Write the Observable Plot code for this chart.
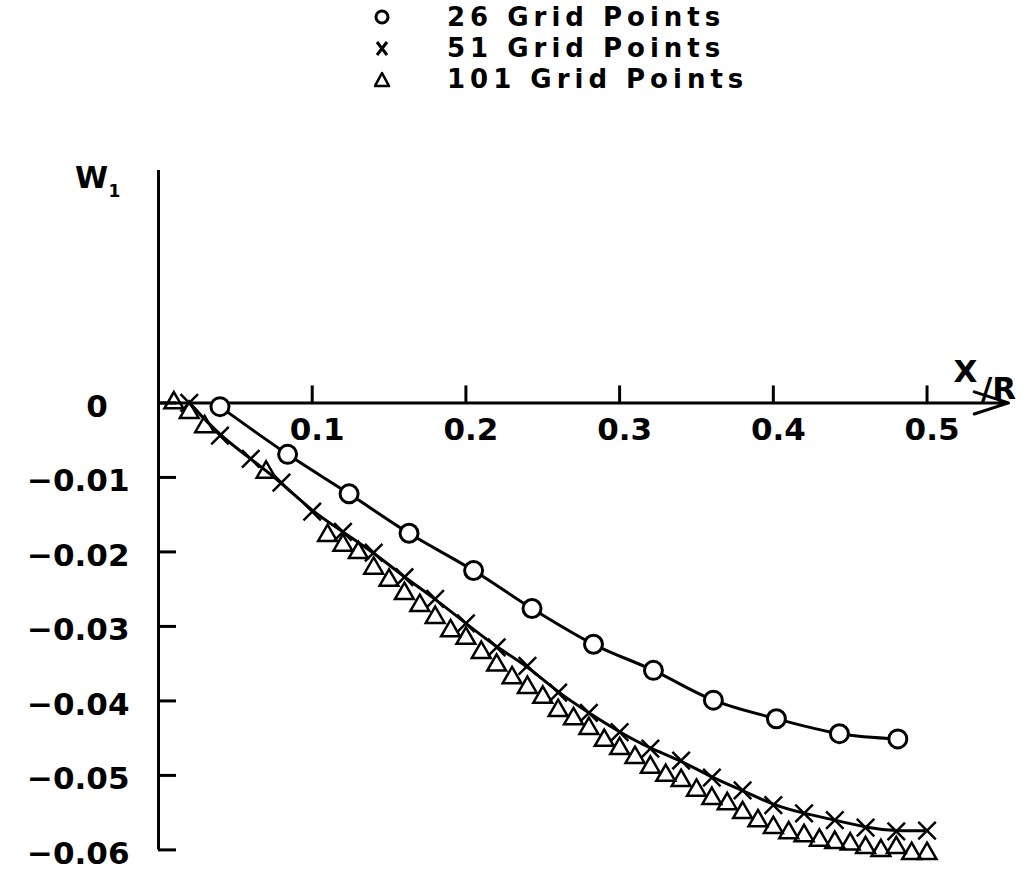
<!DOCTYPE html>
<html>
<head>
<meta charset="utf-8">
<script src="https://cdn.jsdelivr.net/npm/d3@7"></script>
<script src="https://cdn.jsdelivr.net/npm/@observablehq/plot@0.6"></script>
<style>
  html, body { margin: 0; padding: 0; background: #fff; }
  body { width: 1023px; height: 880px; overflow: hidden; font-family: "DejaVu Sans", sans-serif; }
  #legend { position: relative; height: 100px; }
  .row { position: absolute; left: 0; height: 30px; line-height: 30px; font-size: 26px; font-weight: bold; letter-spacing: 5px; color: #000; white-space: nowrap; }
  .row svg { position: absolute; left: 374px; top: 7px; }
  .row span { position: absolute; left: 447px; top: 0; }
  #chart svg { display: block; }
</style>
</head>
<body>
<div id="legend"></div>
<div id="chart"></div>
<script>
// ---- data ----
const seriesNames = ["26 Grid Points", "51 Grid Points", "101 Grid Points"];
const seriesSymbols = ["circle", "times", "triangle"];

// 26 grid points (circles)
const x26 = [0.040, 0.084, 0.124, 0.163, 0.205, 0.243, 0.283, 0.322, 0.361, 0.402, 0.443, 0.481];
const w26 = [-0.0005, -0.0069, -0.0122, -0.0175, -0.0225, -0.0276, -0.0324, -0.0359, -0.0399, -0.0424, -0.0444, -0.0451];

// 51 grid points (crosses)
const x51 = [0.02, 0.04, 0.06, 0.08, 0.10, 0.12, 0.14, 0.16, 0.18, 0.20, 0.22, 0.24, 0.26,
             0.28, 0.30, 0.32, 0.34, 0.36, 0.38, 0.40, 0.42, 0.44, 0.46, 0.48, 0.50];
const w51 = [0.0, -0.0044, -0.0075, -0.0107, -0.0146, -0.0173, -0.0201, -0.0234, -0.0263, -0.0296,
             -0.0328, -0.0353, -0.0389, -0.0416, -0.0442, -0.0464, -0.0480, -0.0503, -0.0520,
             -0.0540, -0.0551, -0.0560, -0.0570, -0.0575, -0.0574];

// 101 grid points (triangles)
const x101 = [0.01, 0.02, 0.03, 0.07, 0.11, 0.12, 0.13, 0.14, 0.15, 0.16, 0.17, 0.18, 0.19, 0.20,
              0.21, 0.22, 0.23, 0.24, 0.25, 0.26, 0.27, 0.28, 0.29, 0.30, 0.31, 0.32, 0.33, 0.34,
              0.35, 0.36, 0.37, 0.38, 0.39, 0.40, 0.41, 0.42, 0.43, 0.44, 0.45, 0.46, 0.47, 0.48,
              0.49, 0.50];
const w101 = [0.0, -0.0013, -0.0032, -0.0093, -0.0178, -0.0191, -0.0201, -0.0222, -0.0238, -0.0256,
              -0.0272, -0.0288, -0.0306, -0.0316, -0.0335, -0.0352, -0.0369, -0.0382, -0.0395,
              -0.0413, -0.0424, -0.0437, -0.0453, -0.0464, -0.0476, -0.0489, -0.0500, -0.0507,
              -0.0520, -0.0531, -0.0538, -0.0550, -0.0561, -0.0570, -0.0577, -0.0581, -0.0587,
              -0.0590, -0.0592, -0.0597, -0.0601, -0.0597, -0.0605, -0.0605];

const xTicks = [0.1, 0.2, 0.3, 0.4, 0.5];
const xTickLabels = ["0.1", "0.2", "0.3", "0.4", "0.5"];
const yTicks = [0, -0.01, -0.02, -0.03, -0.04, -0.05, -0.06];
const yTickLabels = ["0\u2007", "\u22120.01", "\u22120.02", "\u22120.03", "\u22120.04", "\u22120.05", "\u22120.06"];
const xDomain = [0, 0.553];
const yDomain = [-0.06, 0.0312];
const xLabel = ["X", "/R"];
const yLabel = ["W", "1"];

// ---- legend (HTML above the plot) ----
const legendTops = [2, 33, 64];
const legend = document.getElementById("legend");
seriesNames.forEach((name, i) => {
  const row = document.createElement("div");
  row.className = "row";
  row.style.top = legendTops[i] + "px";
  let shape;
  if (seriesSymbols[i] === "circle") shape = '<circle cx="8" cy="8" r="6" fill="none" stroke="#000" stroke-width="3"/>';
  else if (seriesSymbols[i] === "times") shape = '<path d="M3,2 L13,15 M13,2 L3,15" stroke="#000" stroke-width="3" fill="none"/>';
  else shape = '<path d="M8,2 L15,15 L1,15 Z" stroke="#000" stroke-width="2.6" fill="none" stroke-linejoin="round"/>';
  row.innerHTML = `<svg width="17" height="17">${shape}</svg><span>${name}</span>`;
  legend.appendChild(row);
});

// ---- plot ----
const d26 = x26.map((x, i) => ({x, w: w26[i]}));
const d51 = x51.map((x, i) => ({x, w: w51[i]}));
const d101 = x101.map((x, i) => ({x, w: w101[i]}));

const width = 1023, marginLeft = 158, marginRight = 15;
const frameWidth = width - marginLeft - marginRight;
const tickLen = 18;
const tickFont = {fontSize: 31, fill: "black", fontWeight: "bold", letterSpacing: 2};

const chart = Plot.plot({
  width,
  height: 780,
  marginLeft,
  marginRight,
  marginTop: 70,
  marginBottom: 30.6,
  x: {domain: xDomain, axis: null},
  y: {domain: yDomain, axis: null},
  style: {fontFamily: "'DejaVu Sans', sans-serif", background: "white", color: "black", overflow: "visible"},
  marks: [
    // y axis line
    Plot.ruleX([0], {x: d => d, y1: yDomain[0], y2: yDomain[1], stroke: "black", strokeWidth: 3}),
    // x axis with arrow
    Plot.arrow([0], {x1: xDomain[0], y1: 0, x2: xDomain[1], y2: 0, stroke: "black", strokeWidth: 3, headLength: 18, headAngle: 36}),
    // y ticks (pointing right from the axis)
    Plot.ruleY(yTicks, {y: d => d, insetRight: frameWidth - tickLen, stroke: "black", strokeWidth: 3}),
    // x ticks (pointing up)
    Plot.ruleX(xTicks, {x: d => d, y1: 0, y2: 0, insetBottom: 17, stroke: "black", strokeWidth: 3}),
    // tick labels
    Plot.text(yTicks, {x: 0, y: d => d, text: (d, i) => yTickLabels[i], textAnchor: "end", dx: -29, dy: 4, ...tickFont}),
    Plot.text(xTicks, {x: d => d, y: 0, text: (d, i) => xTickLabels[i], dx: 5, dy: 27, ...tickFont}),
    // axis titles
    Plot.text([yLabel[0]], {frameAnchor: "top-left", text: d => d, textAnchor: "middle", lineAnchor: "middle", dx: -67, dy: 8, fontSize: 30, fontWeight: "bold"}),
    Plot.text([yLabel[1]], {frameAnchor: "top-left", text: d => d, textAnchor: "middle", lineAnchor: "middle", dx: -44, dy: 21, fontSize: 17, fontWeight: "bold"}),
    Plot.text([xLabel[0]], {x: () => xDomain[1], y: () => 0, text: d => d, textAnchor: "middle", lineAnchor: "middle", dx: -43, dy: -31, fontSize: 31, fontWeight: "bold"}),
    Plot.text([xLabel[1]], {x: () => xDomain[1], y: () => 0, text: d => d, textAnchor: "middle", lineAnchor: "middle", dx: -10, dy: -14, fontSize: 31, fontWeight: "bold"}),
    // curves
    Plot.line(d26, {x: "x", y: "w", curve: "catmull-rom", stroke: "black", strokeWidth: 3}),
    Plot.line(d51, {x: "x", y: "w", curve: "basis", stroke: "black", strokeWidth: 3}),
    // markers
    Plot.dot(d101, {x: "x", y: "w", symbol: "triangle", r: 7, stroke: "black", strokeWidth: 2.5, fill: "none"}),
    Plot.dot(d51, {x: "x", y: "w", symbol: "times", r: 8, stroke: "black", strokeWidth: 2.5}),
    Plot.dot(d26, {x: "x", y: "w", symbol: "circle", r: 9, stroke: "black", strokeWidth: 3, fill: "white"})
  ]
});
document.getElementById("chart").appendChild(chart);
</script>
</body>
</html>
